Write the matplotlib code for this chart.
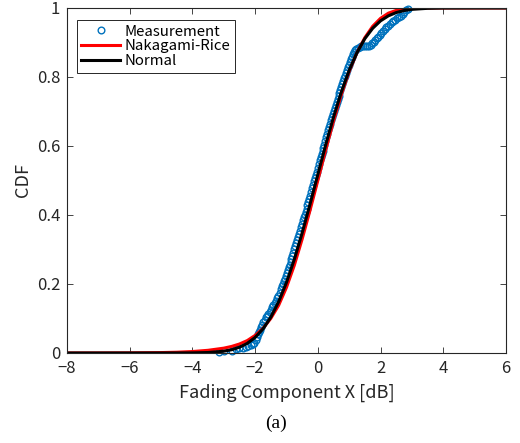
import matplotlib
matplotlib.use("Agg")
import matplotlib.pyplot as plt

meas_x = [-3.15, -2.98, -2.75, -2.62, -2.52, -2.40, -2.30, -2.22, -2.14, -2.07,
          -2.02, -1.98, -1.95, -1.92, -1.89, -1.86, -1.82,
          -1.78, -1.74, -1.70, -1.66, -1.62, -1.58, -1.54, -1.50, -1.46, -1.42,
          -1.38, -1.34, -1.30, -1.26, -1.22, -1.18, -1.14,
          -1.11, -1.08, -1.05, -1.02, -0.99, -0.96, -0.93, -0.90, -0.87, -0.84,
          -0.81, -0.78, -0.75, -0.72, -0.69, -0.66, -0.63, -0.60, -0.57, -0.54,
          -0.51, -0.48, -0.45, -0.42, -0.39, -0.36, -0.33, -0.30, -0.27, -0.24,
          -0.21, -0.18, -0.15, -0.12, -0.09, -0.06, -0.03, 0.00, 0.03, 0.06,
          0.09, 0.12, 0.15, 0.18, 0.21, 0.24, 0.27, 0.30, 0.33, 0.36,
          0.39, 0.42, 0.45, 0.48, 0.51, 0.54, 0.57, 0.60, 0.63, 0.66,
          0.69, 0.72, 0.75, 0.78, 0.81, 0.84, 0.87, 0.90, 0.93, 0.96,
          0.99, 1.02, 1.05, 1.08, 1.11,
          1.15, 1.19, 1.23, 1.28, 1.33, 1.39, 1.45, 1.51, 1.57, 1.63,
          1.68, 1.73, 1.78, 1.83, 1.88, 1.93, 1.98, 2.03, 2.08, 2.13,
          2.18, 2.23, 2.29, 2.35, 2.41, 2.47, 2.53, 2.59, 2.65, 2.71,
          2.76, 2.81, 2.87]
meas_y = [0.003, 0.005, 0.007, 0.011, 0.013, 0.014, 0.016, 0.019, 0.022, 0.026,
          0.030, 0.038, 0.046, 0.054, 0.062, 0.068, 0.075,
          0.082, 0.090, 0.097, 0.103, 0.108, 0.112, 0.118, 0.125, 0.132, 0.139,
          0.146, 0.152, 0.158, 0.166, 0.175, 0.185, 0.195,
          0.200, 0.208, 0.215, 0.224, 0.233, 0.241, 0.248, 0.255, 0.263, 0.272,
          0.280, 0.290, 0.300, 0.310, 0.319, 0.328, 0.336, 0.344, 0.353, 0.364,
          0.375, 0.385, 0.393, 0.401, 0.409, 0.418, 0.428, 0.438, 0.447, 0.456,
          0.466, 0.477, 0.488, 0.498, 0.507, 0.516, 0.526, 0.537, 0.548, 0.558,
          0.567, 0.576, 0.585, 0.594, 0.604, 0.615, 0.626, 0.636, 0.645, 0.654,
          0.664, 0.675, 0.685, 0.694, 0.702, 0.710, 0.719, 0.728, 0.737, 0.745,
          0.753, 0.761, 0.770, 0.779, 0.788, 0.796, 0.804, 0.812, 0.820, 0.828,
          0.836, 0.844, 0.852, 0.859, 0.866,
          0.872, 0.877, 0.881, 0.885, 0.888, 0.889, 0.889, 0.889, 0.890, 0.891,
          0.894, 0.898, 0.902, 0.907, 0.912, 0.917, 0.922, 0.928, 0.934, 0.939,
          0.944, 0.949, 0.954, 0.958, 0.962, 0.966, 0.970, 0.974, 0.978, 0.983,
          0.988, 0.993, 0.997]

# fitted model CDFs, sampled along the drawn curves
fit_x = [-8.0, -7.0, -6.0, -5.0, -4.5, -4.0, -3.5, -3.0, -2.75, -2.5,
         -2.25, -2.0, -1.75, -1.5, -1.25, -1.0, -0.75, -0.5, -0.25, 0.0,
         0.25, 0.5, 0.75, 1.0, 1.25, 1.5, 1.75, 2.0, 2.25, 2.5,
         2.75, 3.0, 3.5, 4.0, 5.0, 6.0]
rice_cdf = [0.0, 0.0001, 0.0004, 0.0012, 0.0022, 0.0042, 0.0078, 0.014, 0.019, 0.026,
            0.036, 0.051, 0.071, 0.100, 0.138, 0.190, 0.254, 0.330, 0.413, 0.500,
            0.588, 0.672, 0.749, 0.816, 0.871, 0.914, 0.947, 0.970, 0.985, 0.993,
            0.997, 0.9988, 0.9998, 1.0, 1.0, 1.0]
normal_cdf = [0.0, 0.0, 0.0, 0.00001, 0.00005, 0.0003, 0.00135, 0.0052, 0.0094, 0.0166,
              0.0279, 0.0450, 0.0697, 0.1037, 0.1484, 0.2044, 0.2713, 0.3479, 0.4310, 0.5173,
              0.6030, 0.6837, 0.7567, 0.8194, 0.8708, 0.9112, 0.9412, 0.9627, 0.9772, 0.9867,
              0.9926, 0.9960, 0.9990, 0.9998, 1.0, 1.0]

x_ticks = [-8, -6, -4, -2, 0, 2, 4, 6]
y_ticks = [0, 0.2, 0.4, 0.6, 0.8, 1]
y_tick_labels = ["0", "0.2", "0.4", "0.6", "0.8", "1"]

plt.rcParams["font.family"] = ["Noto Sans CJK JP", "DejaVu Sans"]

fig = plt.figure(figsize=(5.2, 4.43), dpi=100)
ax = fig.add_axes([0.1288, 0.2032, 0.8442, 0.7788])

ax.plot(meas_x, meas_y, "o", mfc="none", mec="#0072BD", ms=4.8, mew=1.0,
        clip_on=False, label="Measurement")
ax.plot(fit_x, rice_cdf, color="#FF0000", lw=2.2, label="Nakagami-Rice")
ax.plot(fit_x, normal_cdf, color="black", lw=2.2, label="Normal")

ax.set_xlim(-8, 6)
ax.set_ylim(0, 1)
ax.set_xticks(x_ticks)
ax.set_yticks(y_ticks)
ax.set_yticklabels(y_tick_labels)
ax.tick_params(direction="in", top=True, right=True, length=4, width=0.6,
               colors="#262626", labelsize=12, pad=5)
for s in ax.spines.values():
    s.set_color("#262626")
    s.set_linewidth(0.8)

ax.set_xlabel("Fading Component X [dB]", fontsize=13, color="#262626", labelpad=5)
ax.set_ylabel("CDF", fontsize=13, color="#262626", labelpad=3)

leg = ax.legend(loc="upper left", bbox_to_anchor=(0.022, 0.965), fontsize=10.8,
                frameon=True, fancybox=False, edgecolor="#262626", framealpha=1,
                handlelength=2.6, handletextpad=0.3, borderpad=0.3, labelspacing=0.05,
                borderaxespad=0)
leg.get_frame().set_linewidth(0.7)

fig.text(0.531, 0.045, "(a)", ha="center", va="center",
         family="Liberation Serif", fontsize=14)

fig.savefig("out.png", dpi=100)
